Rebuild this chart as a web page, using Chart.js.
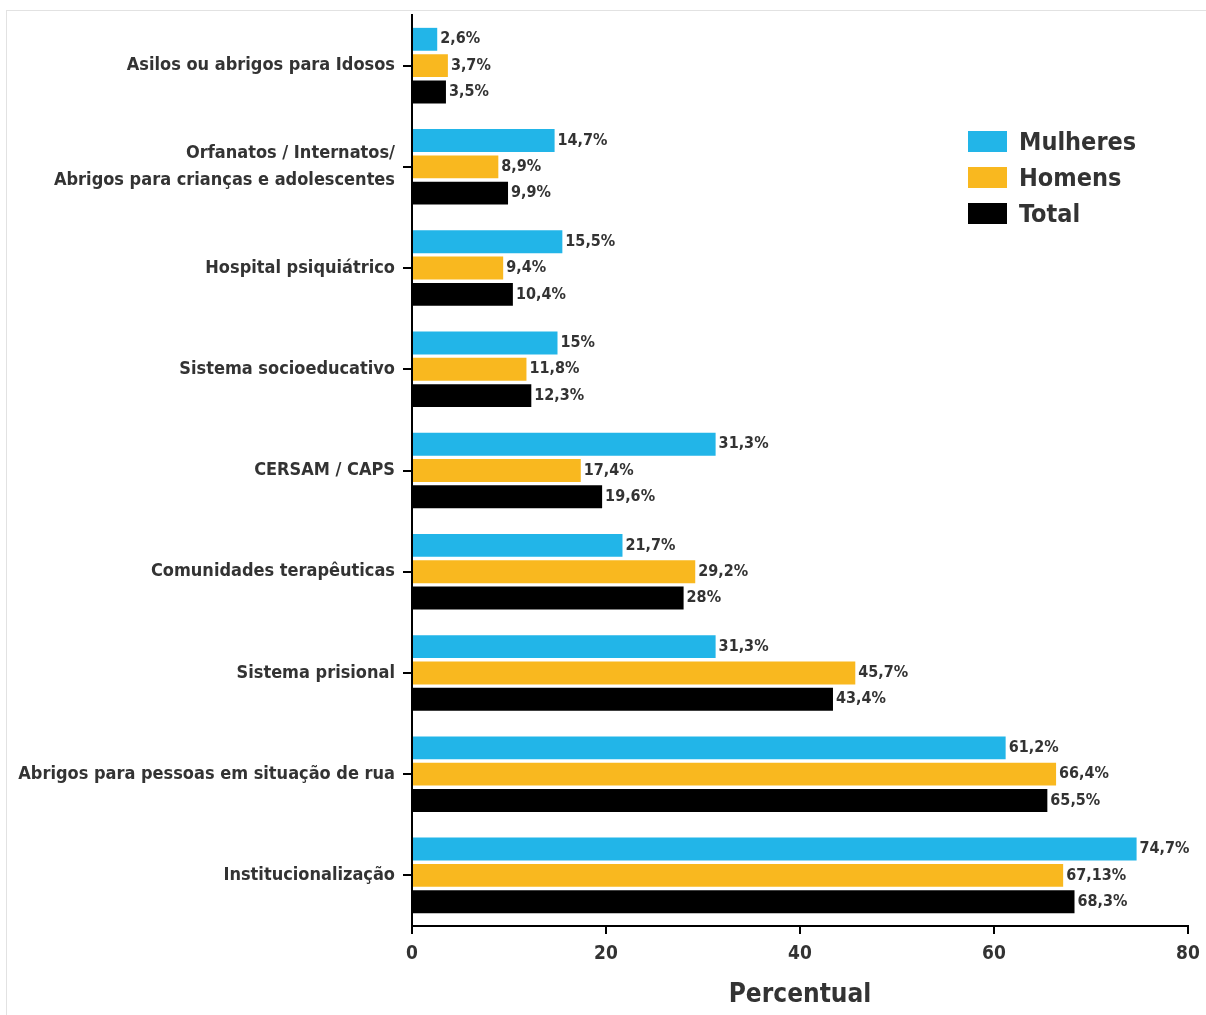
<!DOCTYPE html>
<html>
<head>
<meta charset="utf-8">
<script src="https://cdn.jsdelivr.net/npm/chart.js@4"></script>
<style>
  body { margin: 0; background: #fff; }
  #wrap { position: relative; width: 1206px; height: 1015px; }
  #frame { position: absolute; left: 6px; top: 10px; width: 1210px; height: 1020px; border: 1px solid #e2e2e2; }
  #legend { position: absolute; left: 968px; top: 123px; font-family: "Liberation Sans Narrow", "DejaVu Sans Condensed", sans-serif; font-weight: bold; font-size: 25px; color: #333; }
  #legend div { display: flex; align-items: center; height: 36px; }
  #legend span.box { display: inline-block; width: 39px; height: 21px; margin-right: 12px; }
</style>
</head>
<body>
<div id="wrap">
  <div id="frame"></div>
  <canvas id="chart" width="1206" height="1015"></canvas>
  <div id="legend"></div>
</div>
<script>
const categories = [
  'Asilos ou abrigos para Idosos',
  ['Orfanatos / Internatos/', 'Abrigos para crianças e adolescentes'],
  'Hospital psiquiátrico',
  'Sistema socioeducativo',
  'CERSAM / CAPS',
  'Comunidades terapêuticas',
  'Sistema prisional',
  'Abrigos para pessoas em situação de rua',
  'Institucionalização'
];
const seriesNames = ['Mulheres', 'Homens', 'Total'];
const mulheres = [2.6, 14.7, 15.5, 15, 31.3, 21.7, 31.3, 61.2, 74.7];
const homens = [3.7, 8.9, 9.4, 11.8, 17.4, 29.2, 45.7, 66.4, 67.13];
const total = [3.5, 9.9, 10.4, 12.3, 19.6, 28, 43.4, 65.5, 68.3];
const xTicks = [0, 20, 40, 60, 80];
const colors = ['#22b5e8', '#f9b81f', '#000000'];

const fontFamily = '"Liberation Sans Narrow", "DejaVu Sans Condensed", sans-serif';

// value labels at the end of each bar
const barLabels = {
  id: 'barLabels',
  afterDatasetsDraw(chart) {
    const ctx = chart.ctx;
    ctx.save();
    ctx.font = 'bold 16px ' + fontFamily;
    ctx.fillStyle = '#333';
    ctx.textBaseline = 'middle';
    chart.data.datasets.forEach((ds, i) => {
      chart.getDatasetMeta(i).data.forEach((bar, j) => {
        const txt = String(ds.data[j]).replace('.', ',') + '%';
        ctx.fillText(txt, bar.x + 3, bar.y);
      });
    });
    ctx.restore();
  }
};

const chart = new Chart(document.getElementById('chart'), {
  type: 'bar',
  data: {
    labels: categories,
    datasets: [
      { label: seriesNames[0], data: mulheres, backgroundColor: colors[0] },
      { label: seriesNames[1], data: homens, backgroundColor: colors[1] },
      { label: seriesNames[2], data: total, backgroundColor: colors[2] }
    ]
  },
  options: {
    indexAxis: 'y',
    responsive: false,
    animation: false,
    layout: { padding: { top: 15, right: 18, left: 0, bottom: 0 } },
    categoryPercentage: 0.78,
    barPercentage: 0.87,
    plugins: {
      legend: { display: false },
      tooltip: { enabled: false }
    },
    scales: {
      x: {
        min: 0,
        max: 80,
        afterBuildTicks: s => { s.ticks = xTicks.map(v => ({ value: v })); },
        afterFit: s => { s.height = 89; s.paddingLeft = 0; s.paddingRight = 0; },
        border: { color: '#000', width: 2 },
        grid: { drawOnChartArea: false, color: '#000', lineWidth: 2, tickLength: 8 },
        ticks: { color: '#333', font: { family: fontFamily, size: 19, weight: 'bold' }, padding: 9 },
        title: {
          display: true,
          text: 'Percentual',
          color: '#333',
          font: { family: fontFamily, size: 26, weight: 'bold' },
          padding: { top: 10 }
        }
      },
      y: {
        afterFit: s => { s.width = 412; s.paddingTop = 0; s.paddingBottom = 0; },
        border: { color: '#000', width: 2 },
        grid: { drawOnChartArea: false, offset: false, color: '#000', lineWidth: 2, tickLength: 9 },
        ticks: { color: '#333', font: { family: fontFamily, size: 18, weight: 'bold', lineHeight: 1.5 }, padding: 8 }
      }
    }
  },
  plugins: [barLabels]
});

// legend
const legend = document.getElementById('legend');
seriesNames.forEach((name, i) => {
  const row = document.createElement('div');
  row.innerHTML = '<span class="box" style="background:' + colors[i] + '"></span>' + name;
  legend.appendChild(row);
});
</script>
</body>
</html>
